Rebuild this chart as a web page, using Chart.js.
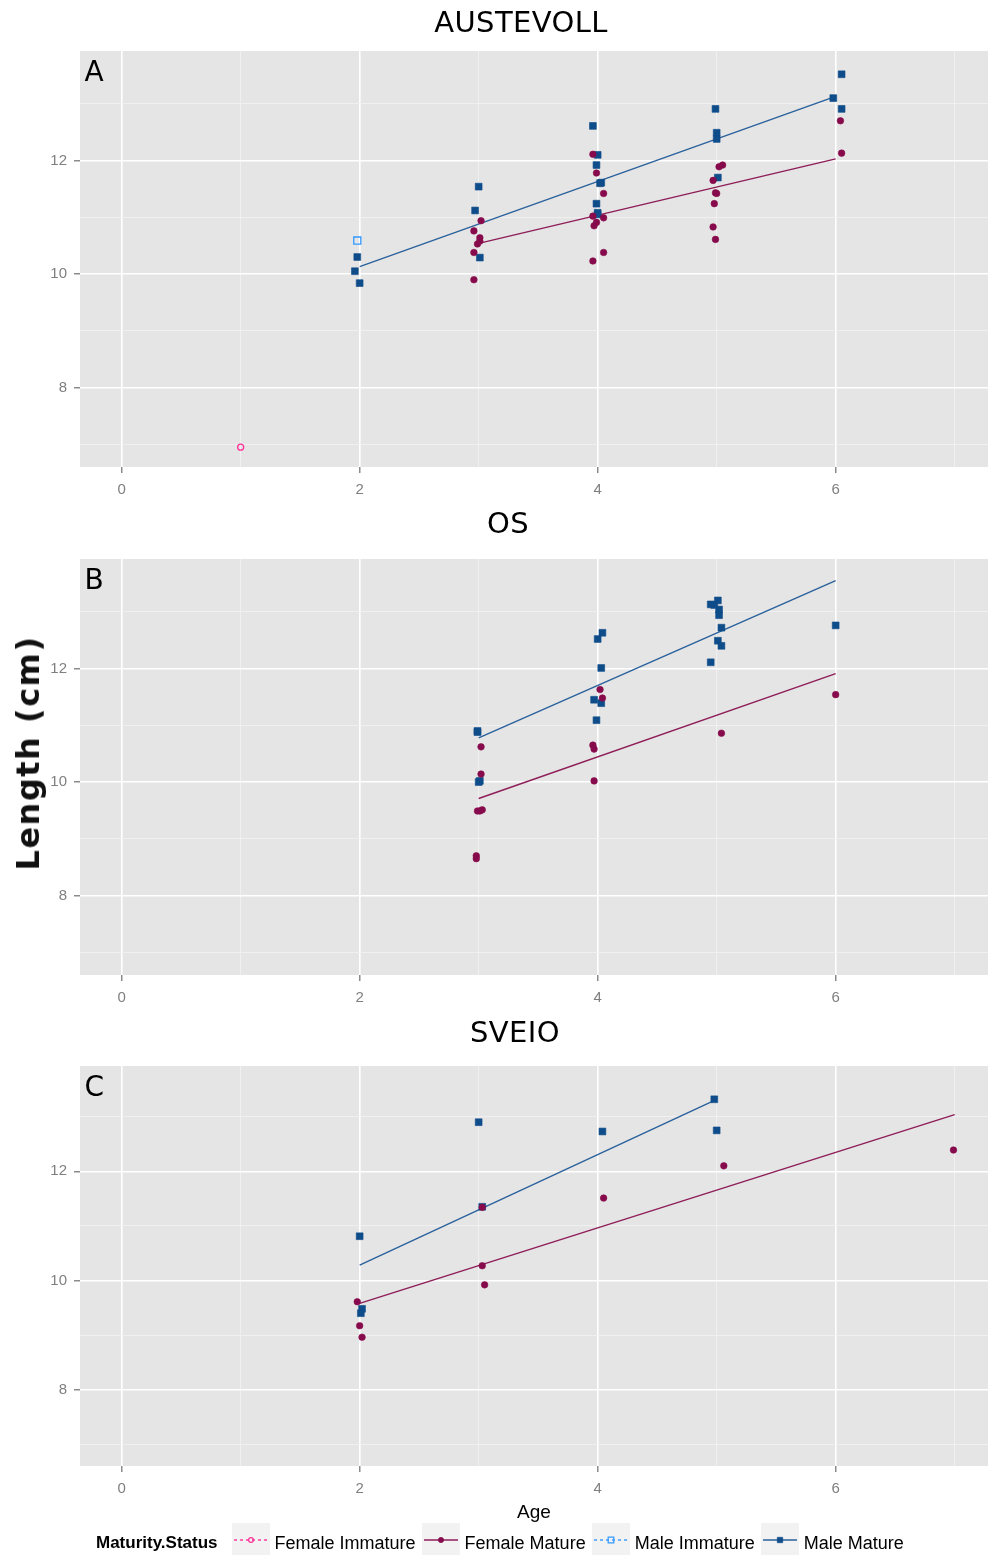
<!DOCTYPE html>
<html>
<head>
<meta charset="utf-8">
<title>Length at age by site</title>
<script src="https://cdn.jsdelivr.net/npm/chart.js@4.4.1/dist/chart.umd.min.js"></script>
<style>
  body { margin: 0; background: #fff; }
  #page { position: relative; width: 988px; height: 1555px; overflow: hidden; font-family: "Liberation Sans", Arial, sans-serif; }
  #page > canvas { position: absolute; left: 0; }
  .site { position: absolute; width: 400px; text-align: center; font: 29px "DejaVu Sans", sans-serif; line-height: 29px; letter-spacing: 0.4px; color: #000; }
  #ylab { position: absolute; left: 28px; top: 753px; transform: translate(-50%, -50%) rotate(-90deg);
          font: bold 32px "DejaVu Sans", sans-serif; letter-spacing: 1.5px; white-space: nowrap; color: #111; }
  #legend { position: absolute; left: 96px; top: 1523px; display: flex; align-items: flex-start; white-space: nowrap; }
  #legend .ttl { font: bold 17px "Liberation Sans", Arial, sans-serif; line-height: 20px; margin-top: 10px; margin-right: 14px; }
  #legend .lbl { font: 18px "Liberation Sans", Arial, sans-serif; line-height: 20px; margin-top: 10px; margin-left: 5px; margin-right: 6px; color: #000; }
  #legend canvas { display: block; }
</style>
</head>
<body>
<div id="page">
  <canvas id="panelA" width="988" height="510" style="top:0px"></canvas>
  <canvas id="panelB" width="988" height="508" style="top:510px"></canvas>
  <canvas id="panelC" width="988" height="507" style="top:1018px"></canvas>
  <div id="ylab">Length (cm)</div>
  <div id="legend"></div>
</div>
<script>
const sites = ['AUSTEVOLL', 'OS', 'SVEIO'];
const panelLetters = ['A', 'B', 'C'];
const seriesNames = ['Female Immature', 'Female Mature', 'Male Immature', 'Male Mature'];
const ageTicks = [0, 2, 4, 6];
const lengthTicks = [8, 10, 12];

// AUSTEVOLL, points are [age, length]
const austFemImm = [[1.0, 6.95]];
const austFemMat = [
  [3.02, 10.94], [2.96, 10.76], [3.01, 10.64], [3.01, 10.58], [2.99, 10.53], [2.96, 10.38], [2.96, 9.90],
  [3.96, 12.11], [3.99, 11.78], [4.05, 11.42], [3.96, 11.02], [4.05, 10.99], [3.99, 10.91], [3.97, 10.85],
  [4.05, 10.38], [3.96, 10.23],
  [5.05, 11.92], [5.02, 11.89], [4.97, 11.65], [4.99, 11.43], [5.00, 11.42], [4.98, 11.24], [4.97, 10.83],
  [4.99, 10.61],
  [6.04, 12.70], [6.05, 12.13]
];
const austMaleImm = [[1.98, 10.59]];
const austMaleMat = [
  [1.98, 10.30], [1.96, 10.05], [2.00, 9.84],
  [3.00, 11.54], [2.97, 11.12], [3.01, 10.29],
  [3.96, 12.61], [4.00, 12.10], [3.99, 11.92], [4.03, 11.61], [4.02, 11.60], [3.99, 11.24], [4.00, 11.08],
  [4.00, 11.05],
  [4.99, 12.91], [5.00, 12.49], [5.00, 12.38], [5.01, 11.70],
  [6.05, 13.52], [5.98, 13.10], [6.05, 12.91]
];
const austFitFem = [[3, 10.54], [6, 12.03]];
const austFitMale = [[2, 10.13], [6, 13.13]];

// OS
const osFemMat = [
  [3.02, 10.62], [3.02, 10.14], [2.99, 9.49], [3.03, 9.51], [3.01, 9.49], [2.98, 8.70], [2.98, 8.65],
  [4.02, 11.63], [4.04, 11.48], [3.96, 10.65], [3.97, 10.58], [3.97, 10.02],
  [5.04, 10.86],
  [6.00, 11.54]
];
const osMaleMat = [
  [2.99, 10.90], [2.99, 10.88], [3.01, 10.02], [3.00, 10.00],
  [4.04, 12.63], [4.00, 12.52], [4.03, 12.01], [3.97, 11.45], [4.03, 11.39], [3.99, 11.09],
  [4.95, 13.13], [5.01, 13.20], [5.02, 13.04], [5.02, 12.94], [5.04, 12.72], [5.01, 12.49], [5.04, 12.40],
  [4.95, 12.11], [4.98, 13.12],
  [6.00, 12.76]
];
const osFitFem = [[3, 9.71], [6, 11.91]];
const osFitMale = [[3, 10.78], [6, 13.55]];

// SVEIO
const sveioFemMat = [
  [1.98, 9.61], [2.00, 9.17], [2.02, 8.96], [3.03, 10.27], [3.05, 9.92], [3.03, 11.34],
  [4.05, 11.51], [5.06, 12.10], [6.99, 12.39]
];
const sveioMaleMat = [
  [2.00, 10.81], [2.02, 9.48], [2.01, 9.40], [3.00, 12.90], [3.03, 11.35], [4.04, 12.73],
  [4.98, 13.32], [5.00, 12.75]
];
const sveioFitFem = [[2, 9.58], [7, 13.04]];
const sveioFitMale = [[2, 10.28], [5, 13.32]];

const seriesStyle = {
  'Female Immature': { color: '#ff3399', line: '#ff3399', pointStyle: 'circle', radius: 3, fill: false, dash: [3, 3] },
  'Female Mature':   { color: '#870b4c', line: '#8e1d58', pointStyle: 'circle', radius: 3.3, fill: true, dash: [] },
  'Male Immature':   { color: '#3399ff', line: '#3399ff', pointStyle: 'rect', radius: 5, fill: false, dash: [3, 3] },
  'Male Mature':     { color: '#0e4c8a', line: '#2a619c', pointStyle: 'rect', radius: 4.8, fill: true, dash: [] }
};

function pointSet(name, pts) {
  const s = seriesStyle[name];
  return {
    label: name,
    data: pts.map(p => ({ x: p[0], y: p[1] })),
    showLine: false,
    pointStyle: s.pointStyle,
    pointRadius: s.radius,
    pointBorderWidth: s.fill ? 0.6 : 1.3,
    pointBorderColor: s.color,
    pointBackgroundColor: s.fill ? s.color : 'rgba(0,0,0,0)'
  };
}

function fitSet(name, pts) {
  const s = seriesStyle[name];
  return {
    label: name + ' fit',
    data: pts.map(p => ({ x: p[0], y: p[1] })),
    showLine: true,
    borderColor: s.line,
    borderWidth: 1.4,
    pointRadius: 0,
    fill: false
  };
}

// grey panel behind the grid
const panelBg = {
  id: 'panelBg',
  beforeDraw(chart) {
    const a = chart.chartArea, ctx = chart.ctx;
    ctx.save();
    ctx.fillStyle = '#e5e5e5';
    ctx.fillRect(a.left, a.top, a.right - a.left, a.bottom - a.top);
    ctx.restore();
  }
};

// A / B / C tag in the corner of each panel
const panelTag = {
  id: 'panelTag',
  afterDraw(chart, args, opts) {
    const a = chart.chartArea, ctx = chart.ctx;
    ctx.save();
    ctx.fillStyle = '#000';
    ctx.font = '28px "DejaVu Sans", sans-serif';
    ctx.textBaseline = 'alphabetic';
    ctx.fillText(opts.text, a.left + 4.5, a.top + 30);
    ctx.restore();
  }
};

const isMajor = c => c.tick && Math.round(c.tick.value) % 2 === 0;

function gridOpts() {
  return {
    color: c => isMajor(c) ? '#ffffff' : '#f3f3f3',
    lineWidth: c => isMajor(c) ? 1.6 : 0.8,
    tickColor: c => isMajor(c) ? '#6f6f6f' : 'rgba(0,0,0,0)',
    tickLength: 6,
    tickWidth: 1.2
  };
}

const panelLayout = [
  { canvas: 'panelA', padTop: 51, axisH: 43, titleX: 521, titleTop: 8 },
  { canvas: 'panelB', padTop: 49, axisH: 43, titleX: 508, titleTop: 509 },
  { canvas: 'panelC', padTop: 48, axisH: 59, titleX: 515, titleTop: 1018 }
];

const panelData = [
  [pointSet('Female Immature', austFemImm), pointSet('Female Mature', austFemMat),
   pointSet('Male Immature', austMaleImm), pointSet('Male Mature', austMaleMat),
   fitSet('Female Mature', austFitFem), fitSet('Male Mature', austFitMale)],
  [pointSet('Female Mature', osFemMat), pointSet('Male Mature', osMaleMat),
   fitSet('Female Mature', osFitFem), fitSet('Male Mature', osFitMale)],
  [pointSet('Female Mature', sveioFemMat), pointSet('Male Mature', sveioMaleMat),
   fitSet('Female Mature', sveioFitFem), fitSet('Male Mature', sveioFitMale)]
];

const tickFont = { family: '"Liberation Sans", Arial, sans-serif', size: 15 };

sites.forEach((site, i) => {
  const lay = panelLayout[i];
  const last = i === sites.length - 1;

  const t = document.createElement('div');
  t.className = 'site';
  t.textContent = site;
  t.style.left = (lay.titleX - 200) + 'px';
  t.style.top = lay.titleTop + 'px';
  document.getElementById('page').appendChild(t);

  const ctx = document.getElementById(lay.canvas).getContext('2d');
  new Chart(ctx, {
    type: 'scatter',
    data: { datasets: panelData[i] },
    plugins: [panelBg, panelTag],
    options: {
      responsive: false,
      animation: false,
      devicePixelRatio: 1,
      layout: { autoPadding: false, padding: { top: lay.padTop, left: 0, right: 0, bottom: 0 } },
      plugins: {
        legend: { display: false },
        tooltip: { enabled: false },
        panelTag: { text: panelLetters[i] }
      },
      scales: {
        x: {
          type: 'linear',
          min: -0.35,
          max: 7.28,
          afterFit: s => { s.height = lay.axisH; s.paddingLeft = 0; s.paddingRight = 0; },
          border: { display: false },
          grid: gridOpts(),
          ticks: {
            stepSize: 1,
            includeBounds: false,
            autoSkip: false,
            maxRotation: 0,
            padding: 8,
            color: '#7f7f7f',
            font: tickFont,
            callback: v => ageTicks.includes(v) ? String(v) : ''
          },
          title: {
            display: last,
            text: 'Age',
            color: '#000',
            font: { family: '"Liberation Sans", Arial, sans-serif', size: 19 },
            padding: { top: 0, bottom: 1 }
          }
        },
        y: {
          type: 'linear',
          min: 6.6,
          max: 13.93,
          afterFit: s => { s.width = 80; s.paddingTop = 0; s.paddingBottom = 0; },
          border: { display: false },
          grid: gridOpts(),
          ticks: {
            stepSize: 1,
            includeBounds: false,
            autoSkip: false,
            padding: 7,
            color: '#7f7f7f',
            font: tickFont,
            callback: v => lengthTicks.includes(v) ? String(v) : ''
          }
        }
      }
    }
  });
});

// legend row: line + marker keys on light grey tiles
function buildLegend() {
  const box = document.getElementById('legend');
  const ttl = document.createElement('span');
  ttl.className = 'ttl';
  ttl.textContent = 'Maturity.Status';
  box.appendChild(ttl);

  seriesNames.forEach(name => {
    const s = seriesStyle[name];
    const key = document.createElement('canvas');
    key.width = 38;
    key.height = 34;
    const k = key.getContext('2d');
    k.fillStyle = '#f2f2f2';
    k.fillRect(0, 0, 38, 34);
    k.strokeStyle = s.line;
    k.lineWidth = 1.4;
    k.setLineDash(s.dash);
    k.beginPath();
    k.moveTo(2, 17);
    k.lineTo(36, 17);
    k.stroke();
    k.setLineDash([]);
    k.fillStyle = s.fill ? s.color : 'rgba(0,0,0,0)';
    k.strokeStyle = s.color;
    k.lineWidth = s.fill ? 0.6 : 1.2;
    Chart.helpers.drawPoint(k, { pointStyle: s.pointStyle, rotation: 0, radius: s.radius * 0.8, borderWidth: k.lineWidth }, 19, 17);
    box.appendChild(key);

    const lbl = document.createElement('span');
    lbl.className = 'lbl';
    lbl.textContent = name;
    box.appendChild(lbl);
  });
}
buildLegend();
</script>
</body>
</html>
